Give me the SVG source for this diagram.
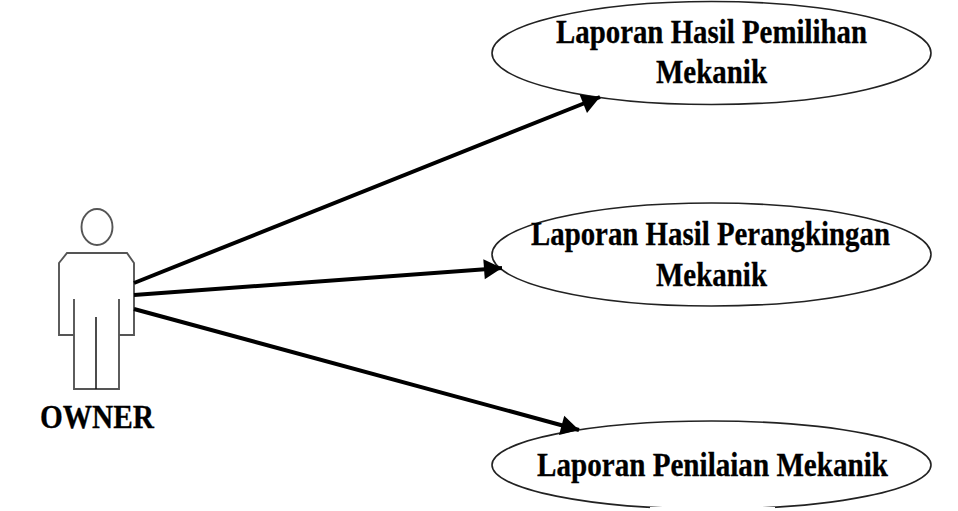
<svg xmlns="http://www.w3.org/2000/svg" width="958" height="511" viewBox="0 0 958 511">
<style>
.t{font-family:"Liberation Serif","Times New Roman",serif;font-weight:bold;font-size:34px;fill:#000;stroke:#000;stroke-width:.3}
.u{fill:#fff;stroke:#222;stroke-width:1.6}
.a{fill:none;stroke:#555;stroke-width:1.9}
.c{stroke:#000;stroke-width:4;fill:none;marker-end:url(#h)}
</style>
<defs><marker id="h" markerUnits="userSpaceOnUse" markerWidth="22" markerHeight="22" refX="20" refY="11" orient="auto"><path d="M2 1L20 11L2 21Z" fill="#000"/></marker></defs>
<rect width="958" height="511" fill="#fff"/>
<g id="owner">
<ellipse class="a" cx="97" cy="227" rx="15.5" ry="18"/>
<path class="a" d="M74 299V389H119V299M74 335H59V263L67 253H127L134 263V335H119"/>
<path d="M96 317V389" fill="none" stroke="#111" stroke-width="1.5"/>
<text class="t" x="40" y="428" textLength="114" lengthAdjust="spacingAndGlyphs">OWNER</text>
</g>
<g id="uc1">
<ellipse class="u" cx="711.5" cy="53" rx="219.5" ry="51.5"/>
<text class="t" x="556" y="43" textLength="311" lengthAdjust="spacingAndGlyphs">Laporan Hasil Pemilihan</text>
<text class="t" x="656" y="83" textLength="111" lengthAdjust="spacingAndGlyphs">Mekanik</text>
</g>
<g id="uc2">
<ellipse class="u" cx="711.5" cy="254.5" rx="219.5" ry="51.5"/>
<text class="t" x="531" y="245" textLength="359" lengthAdjust="spacingAndGlyphs">Laporan Hasil Perangkingan</text>
<text class="t" x="656" y="286" textLength="111" lengthAdjust="spacingAndGlyphs">Mekanik</text>
</g>
<g id="uc3">
<ellipse class="u" cx="711.5" cy="465" rx="219.5" ry="44"/>
<rect x="650" y="507" width="125" height="4" fill="#fff"/>
<text class="t" x="537" y="476" textLength="351" lengthAdjust="spacingAndGlyphs">Laporan Penilaian Mekanik</text>
</g>
<g id="connectors">
<path class="c" d="M134 283L600 97"/>
<path class="c" d="M134 295L502 268"/>
<path class="c" d="M134 309L579 430"/>
</g>
</svg>
